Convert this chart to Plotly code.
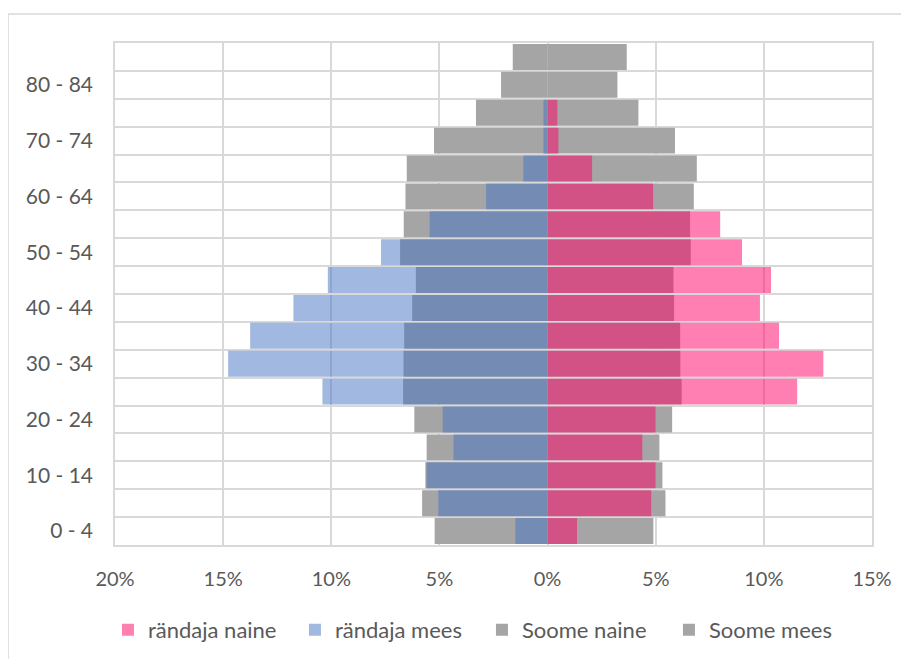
import plotly.graph_objects as go

# Age groups, bottom to top
age_groups = ["0 - 4", "5 - 9", "10 - 14", "15 - 19", "20 - 24", "25 - 29", "30 - 34",
              "35 - 39", "40 - 44", "45 - 49", "50 - 54", "55 - 59", "60 - 64",
              "65 - 69", "70 - 74", "75 - 79", "80 - 84", "85+"]
age_labels = ["0 - 4", "", "10 - 14", "", "20 - 24", "", "30 - 34", "", "40 - 44", "",
              "50 - 54", "", "60 - 64", "", "70 - 74", "", "80 - 84", ""]

# Shares of population (%)
soome_mees = [5.22, 5.80, 5.65, 5.59, 6.16, 6.68, 6.66, 6.63, 6.26, 6.09, 6.82, 6.65,
              6.57, 6.51, 5.25, 3.31, 2.15, 1.61]
randaja_mees = [1.49, 5.05, 5.59, 4.35, 4.85, 10.41, 14.77, 13.75, 11.75, 10.16, 7.70,
                5.45, 2.84, 1.12, 0.19, 0.19, 0.0, 0.0]
soome_naine = [4.89, 5.45, 5.31, 5.17, 5.76, 6.20, 6.14, 6.13, 5.85, 5.82, 6.62, 6.59,
               6.76, 6.90, 5.89, 4.20, 3.23, 3.66]
randaja_naine = [1.36, 4.79, 4.99, 4.38, 4.99, 11.54, 12.75, 10.70, 9.82, 10.33, 8.99,
                 7.98, 4.88, 2.06, 0.50, 0.45, 0.0, 0.0]

x_tickvals = [-20, -15, -10, -5, 0, 5, 10, 15]
x_ticktext = ["20%", "15%", "10%", "5%", "0%", "5%", "10%", "15%"]

FONT = "Lato, 'Open Sans', sans-serif"
TXT = "#595959"
GRID = "#d9d9d9"

fig = go.Figure()

fig.add_trace(go.Bar(y=age_groups, x=soome_naine, orientation="h", name="Soome naine",
                     marker=dict(color="#a5a5a5", line=dict(width=0)), legendrank=3))
fig.add_trace(go.Bar(y=age_groups, x=[-v for v in soome_mees], orientation="h", name="Soome mees",
                     marker=dict(color="#a5a5a5", line=dict(width=0)), legendrank=4))
fig.add_trace(go.Bar(y=age_groups, x=randaja_naine, orientation="h", name="rändaja naine",
                     marker=dict(color="rgba(255,0,102,0.5)", line=dict(width=0)), legendrank=1))
fig.add_trace(go.Bar(y=age_groups, x=[-v for v in randaja_mees], orientation="h", name="rändaja mees",
                     marker=dict(color="rgba(68,114,196,0.5)", line=dict(width=0)), legendrank=2))

fig.update_layout(
    width=909, height=659,
    margin=dict(l=107, r=45, t=35, b=122),
    barmode="overlay", bargap=0.07,
    paper_bgcolor="white", plot_bgcolor="white",
    font=dict(family=FONT, size=20, color=TXT),
    showlegend=True,
    legend=dict(orientation="h", x=-0.0093, xanchor="left", y=-0.169, yanchor="middle",
                entrywidth=142, entrywidthmode="pixels", traceorder="normal",
                font=dict(family=FONT, size=22, color=TXT), bgcolor="rgba(0,0,0,0)"),
    xaxis=dict(range=[-20, 15], tickmode="array", tickvals=x_tickvals, ticktext=x_ticktext,
               tickfont=dict(size=20),
               showgrid=True, gridcolor=GRID, gridwidth=1.5, zeroline=False,
               showline=True, mirror=True, linecolor=GRID, linewidth=1.5,
               ticks="", ticklabelstandoff=15, fixedrange=True),
    yaxis=dict(type="category", range=[-0.5, 17.5], tickmode="array", tickvals=age_groups,
               ticktext=age_labels, tickson="boundaries", showgrid=True, gridcolor=GRID,
               tickfont=dict(size=21),
               gridwidth=2, showline=True, mirror=True, linecolor=GRID, linewidth=1.5,
               ticks="", ticklabelstandoff=16, fixedrange=True),
    shapes=[dict(type="rect", xref="paper", yref="paper", x0=-0.1413, x1=1.2, y0=-0.4, y1=1.0578,
                 line=dict(color=GRID, width=1.5), fillcolor="rgba(0,0,0,0)", layer="below")],
)

fig.write_html("out.html")
